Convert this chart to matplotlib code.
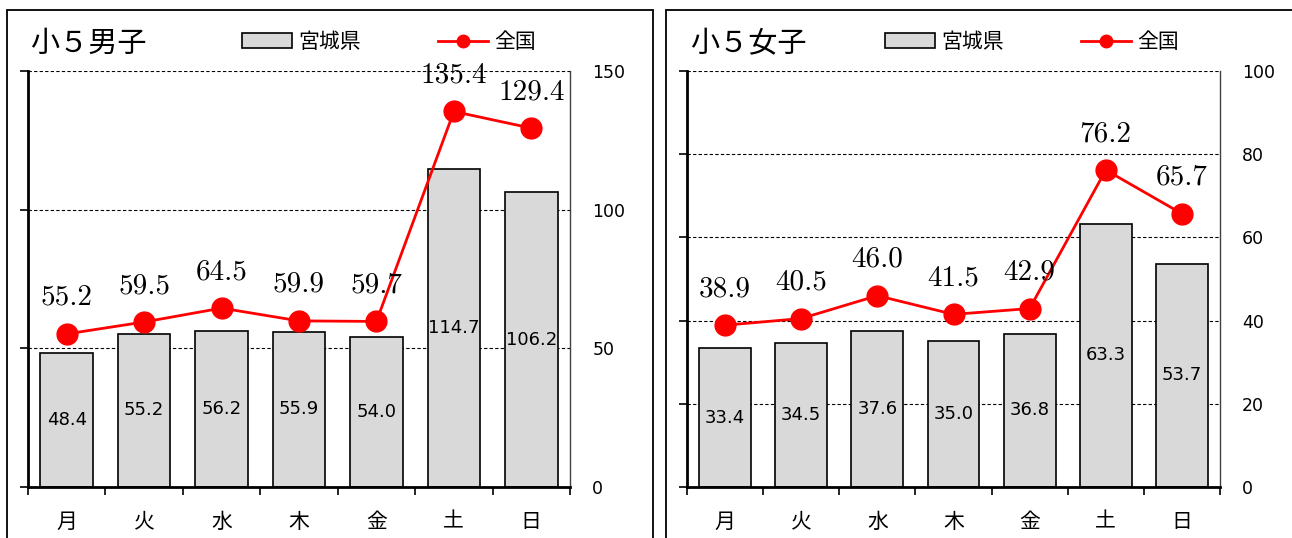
import numpy as np
import matplotlib.pyplot as plt
from matplotlib.patches import Rectangle

# data
days = ['月', '火', '水', '木', '金', '土', '日']
boys_miyagi = [48.4, 55.2, 56.2, 55.9, 54.0, 114.7, 106.2]
boys_zenkoku = [55.2, 59.5, 64.5, 59.9, 59.7, 135.4, 129.4]
girls_miyagi = [33.4, 34.5, 37.6, 35.0, 36.8, 63.3, 53.7]
girls_zenkoku = [38.9, 40.5, 46.0, 41.5, 42.9, 76.2, 65.7]
legend_labels = ['宮城県', '全国']

W, H = 1292, 538
fig = plt.figure(figsize=(W / 100, H / 100), dpi=100)
cjk = ['Noto Sans CJK JP', 'DejaVu Sans']


def box(x0, y0, x1, y1):
    # pixel box -> figure fraction
    return [x0 / W, 1 - y1 / H, (x1 - x0) / W, (y1 - y0) / H]


def panel(axbox, frame, title, title_x, leg_x, bars, line, ymax, step):
    fx0, fy0, fx1, fy1 = frame
    fig.patches.append(Rectangle((fx0 / W, 1 - fy1 / H), (fx1 - fx0) / W, (fy1 - fy0) / H,
                                 transform=fig.transFigure, fill=False,
                                 edgecolor='black', linewidth=1.3))
    fig.text(title_x / W, 1 - 44 / H, title, family=cjk, fontsize=21, va='center', ha='left')

    ax = fig.add_axes(box(*axbox))
    x = np.arange(len(days))
    b = ax.bar(x, bars, width=0.68, color='#d9d9d9', edgecolor='black', linewidth=1.2, zorder=2)
    ln, = ax.plot(x, line, color='red', lw=2, marker='o', ms=15, zorder=3, clip_on=False)

    for xi, v in zip(x, bars):
        ax.text(xi, v / 2, f'{v:.1f}', ha='center', va='center', fontsize=13, zorder=4)
    for xi, v in zip(x, line):
        ax.annotate(f'{v:.1f}', (xi, v), xytext=(0, 26), textcoords='offset points',
                    ha='center', va='center', fontsize=21, family='cmr10', annotation_clip=False)

    ax.set_xlim(-0.5, len(days) - 0.5)
    ax.set_ylim(0, ymax)
    ax.set_yticks(np.arange(0, ymax + 1, step))
    ax.grid(axis='y', linestyle=(0, (3, 2)), color='black', linewidth=0.8, zorder=1)

    ax.spines['top'].set_visible(False)
    ax.spines['left'].set_linewidth(2)
    ax.spines['bottom'].set_linewidth(2)
    ax.spines['right'].set_linewidth(1)
    ax.spines['right'].set_color('#404040')

    ax.set_xticks(np.arange(-0.5, len(days), 1))
    ax.set_xticklabels([])
    ax.set_xticks(x, minor=True)
    ax.set_xticklabels(days, minor=True, family=cjk, fontsize=15)
    ax.tick_params(axis='x', which='major', length=6, width=1.2, direction='out')
    ax.tick_params(axis='x', which='minor', length=0, pad=17)
    ax.tick_params(axis='y', left=True, right=False, labelleft=False, labelright=True,
                   length=6, width=1.2, labelsize=12.5, pad=10)

    ax.legend([b, ln], legend_labels, ncol=2, loc='center left',
              bbox_to_anchor=(leg_x / W, 1 - 42 / H), bbox_transform=fig.transFigure,
              frameon=False, prop={'family': cjk, 'size': 15},
              handlelength=2.4, handleheight=0.7, handletextpad=0.3,
              columnspacing=3.7, borderpad=0, borderaxespad=0, markerscale=0.6)
    return ax


panel((28, 71, 570, 487), (7, 10, 653, 560), '小５男子', 30, 242,
      boys_miyagi, boys_zenkoku, 150, 50)
panel((687, 71, 1220, 487), (666, 10, 1310, 560), '小５女子', 690, 885,
      girls_miyagi, girls_zenkoku, 100, 20)

fig.savefig('out.png', dpi=100)
